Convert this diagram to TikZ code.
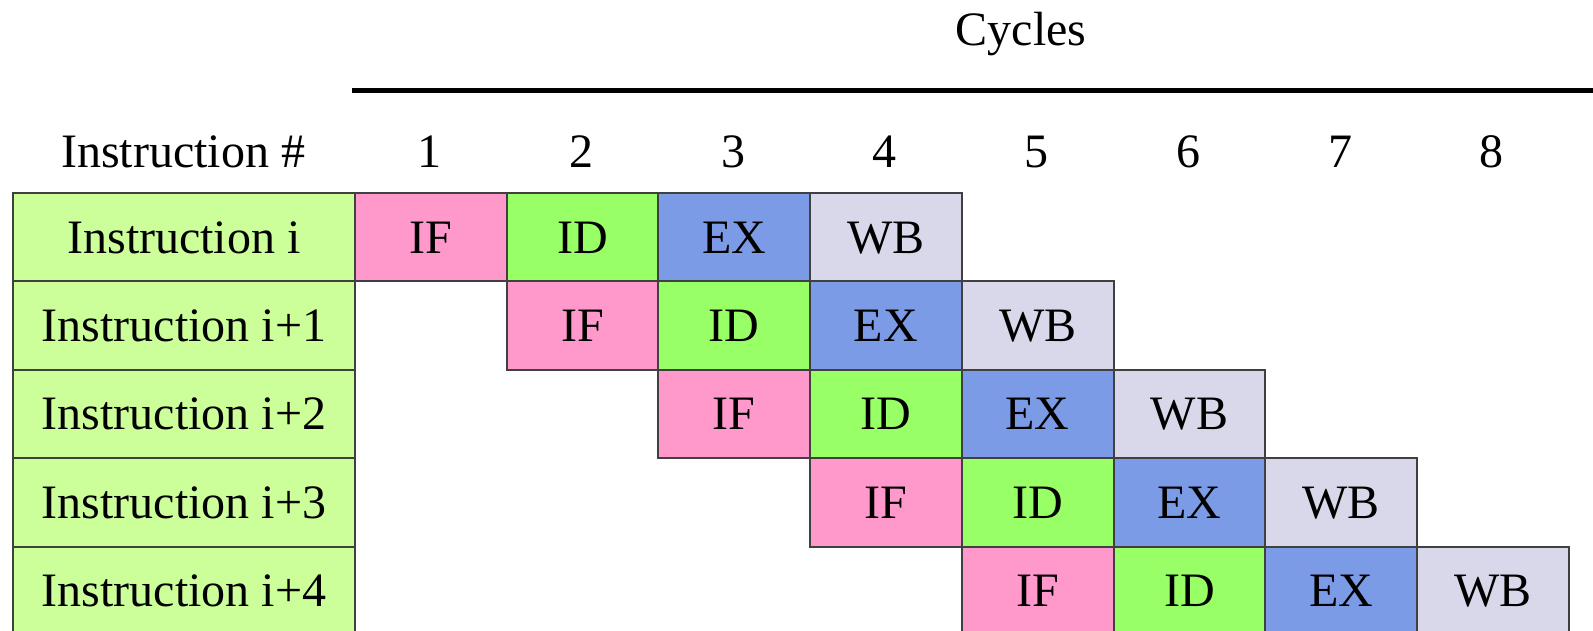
\documentclass[tikz,border=0pt]{standalone}
\usepackage{fontspec}
\setmainfont{Liberation Serif}
\definecolor{cLbl}{RGB}{204,255,153}
\definecolor{cIF}{RGB}{255,153,204}
\definecolor{cID}{RGB}{153,255,102}
\definecolor{cEX}{RGB}{123,155,230}
\definecolor{cWB}{RGB}{216,216,234}
\definecolor{cBorder}{RGB}{64,64,64}
\begin{document}
\begin{tikzpicture}[x=1pt,y=-1pt,
  txt/.style={inner sep=0pt, font=\fontsize{48}{48}\selectfont, text height=31.8pt, text depth=0pt},
  cell/.style={txt, draw=cBorder, line width=2pt, minimum width=151.7pt, minimum height=88.4pt, anchor=north west},
  lbl/.style={cell, fill=cLbl, minimum width=342pt}]
\useasboundingbox (0,0) rectangle (1593,631);
\node[txt] (cyc) at (1021,30) {Cycles};
\coordinate (ls) at (352,91);
\coordinate (le) at (1593,91);
\draw[line width=5pt] (ls) -- (le);
\node[txt] (hdr) at (183,152) {Instruction \#};
\foreach \c in {1,...,8} {
  \node[txt] (N\c) at ({354+(\c-0.5)*151.7},152) {\c};
}
\foreach \r/\t in {0/Instruction i,1/Instruction i+1,2/Instruction i+2,3/Instruction i+3,4/Instruction i+4} {
  \node[lbl] (L\r) at (12,{192+\r*88.4}) {\t};
  \foreach \s/\n/\cc in {0/IF/cIF,1/ID/cID,2/EX/cEX,3/WB/cWB} {
    \node[cell, fill=\cc] (S\r-\s) at ({354+(\r+\s)*151.7},{192+\r*88.4}) {\n};
  }
}
\end{tikzpicture}
\end{document}
